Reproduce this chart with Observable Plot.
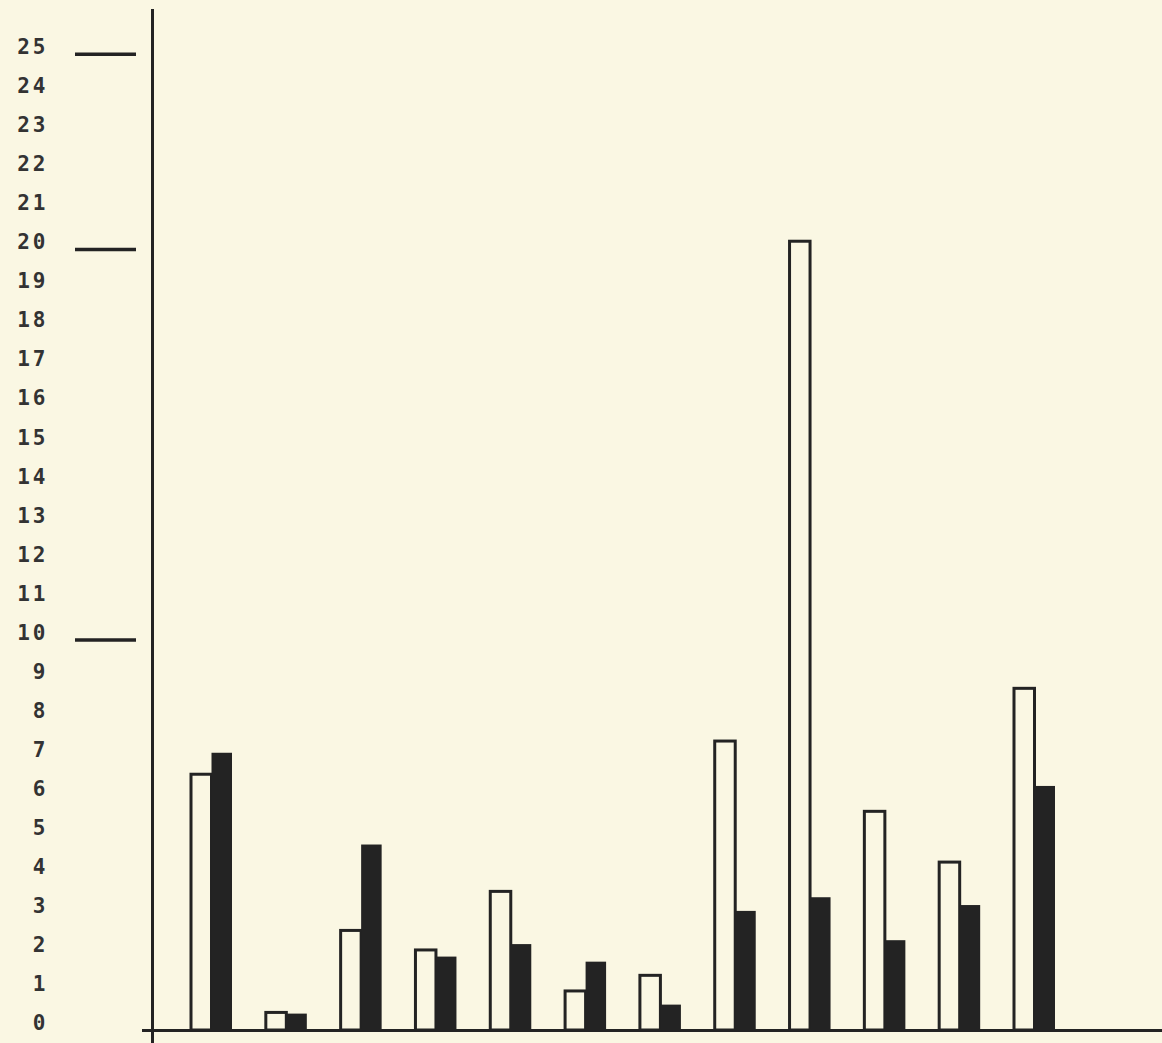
<!DOCTYPE html>
<html>
<head>
<meta charset="utf-8">
<script src="https://cdn.jsdelivr.net/npm/d3@7"></script>
<script src="https://cdn.jsdelivr.net/npm/@observablehq/plot@0.6"></script>
<style>
  html, body { margin: 0; padding: 0; background: #faf7e3; }
</style>
</head>
<body>
<div id="chart"></div>
<script>
const groups = ["1","2","3","4","5","6","7","8","9","10","11","12"];
const whiteValues = [6.55, 0.45, 2.55, 2.05, 3.55, 1.0, 1.4, 7.4, 20.2, 5.6, 4.3, 8.75];
const blackValues = [7.1, 0.42, 4.75, 1.88, 2.2, 1.75, 0.65, 3.05, 3.4, 2.3, 3.2, 6.25];
const yTicks = d3.range(0, 26);
const markedTicks = [10, 20, 25];

const whiteData = groups.map((g, i) => ({group: g, value: whiteValues[i]}));
const blackData = groups.map((g, i) => ({group: g, value: blackValues[i]}));

const ink = "#232323";
const paper = "#faf7e3";

const chart = Plot.plot({
  width: 1162,
  height: 1043,
  marginLeft: 152,
  marginRight: 0,
  marginTop: 10,
  marginBottom: 0,
  style: {background: paper, fontFamily: "'DejaVu Sans Mono', monospace", fontSize: "21px", color: ink, letterSpacing: "3px"},
  x: {domain: groups, range: [191, 1055], paddingInner: 0.452, paddingOuter: 0, round: false, axis: null},
  y: {domain: [0, 25], range: [1030, 53.8], label: null},
  marks: [
    Plot.axisY({ticks: yTicks, tickSize: 0, tickPadding: 104, dy: -7, fontSize: 21, fontWeight: "bold", fill: "#333", label: null, tickFormat: d => String(d)}),
    Plot.axisY({ticks: markedTicks, tickSize: 61, dx: -16, strokeWidth: 3.5, stroke: ink, label: null, tickFormat: () => ""}),
    Plot.frame({anchor: "left", stroke: ink, strokeWidth: 3}),
    Plot.barY(whiteData, {x: "group", y: "value", insetRight: 20.5, fill: paper, stroke: ink, strokeWidth: 3}),
    Plot.barY(blackData, {x: "group", y: "value", insetLeft: 20.5, fill: ink}),
    Plot.ruleY([0], {stroke: ink, strokeWidth: 3, insetLeft: -10})
  ]
});
document.getElementById("chart").appendChild(chart);
</script>
</body>
</html>
